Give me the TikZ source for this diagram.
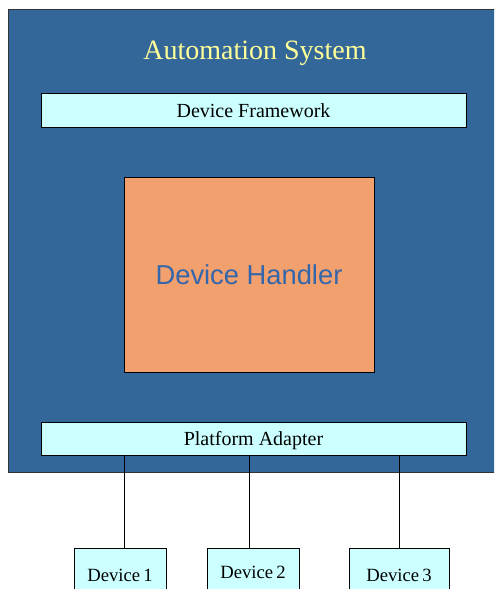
\documentclass[tikz,border=0pt]{standalone}
\usepackage{fontspec}
\setmainfont{Liberation Serif}
\newfontfamily\handlerfont{Liberation Sans}
\usepackage{xcolor}
\usepackage{tikz}
\usetikzlibrary{positioning, calc}
\definecolor{sysblue}{HTML}{336699}
\definecolor{layercyan}{HTML}{CCFFFF}
\definecolor{handlerorange}{HTML}{F2A06E}
\definecolor{titleyellow}{HTML}{FFFF99}
\definecolor{handlertext}{HTML}{3366AA}

\begin{document}
\begin{tikzpicture}[x=0.75pt, y=-0.75pt,
		layer/.style={draw=black, line width=0.75pt, fill=layercyan, minimum width=318.75pt, minimum height=25pt,
			inner sep=0pt, font=\fontsize{15}{18}\selectfont, text height=10pt, text depth=0pt},
		device/.style={draw=black, line width=0.75pt, fill=layercyan, minimum height=40.5pt, anchor=north,
			inner sep=0pt, font=\fontsize{14}{17}\selectfont, text height=9.5pt, text depth=0pt},
		link/.style={draw=black, line width=0.75pt}]
			\useasboundingbox (0,0) rectangle (494,589);
			\clip (0,0) rectangle (494,589);
			% outer system box
			\draw[fill=sysblue, draw=black!80, line width=0.75pt] (8,9) rectangle (500,472);
			\node[anchor=base, text=titleyellow, font=\fontsize{21}{25}\selectfont] (title) at (255,59) {Automation System};
			% layers
			\node[layer] (df) at (253.5,110.5) {Device Framework};
			\node[draw=black, line width=0.75pt, fill=handlerorange, minimum width=187.5pt, minimum height=146.25pt,
				inner sep=0pt, text=handlertext, font=\handlerfont\fontsize{20.5}{24}\selectfont,
				text height=14.7pt, text depth=0pt] (dh) at (249,274.5) {Device Handler};
			\node[layer] (pa) at (253.5,439) {Platform Adapter};
			% devices
			\node[device, minimum width=69pt] (dev1) at (120,548) {Device\,1};
			\node[device, minimum width=69pt, text depth=4.5pt] (dev2) at (253,548) {Device\,2};
			\node[device, minimum width=75pt] (dev3) at (399,548) {Device\,3};
			\draw[link] ([xshift=3pt]dev1.north) -- ([xshift=3pt]dev1.north |- pa.south);
			\draw[link] ([xshift=-3pt]dev2.north) -- ([xshift=-3pt]dev2.north |- pa.south);
			\draw[link] (dev3.north) -- (dev3.north |- pa.south);
		\end{tikzpicture}
\end{document}
